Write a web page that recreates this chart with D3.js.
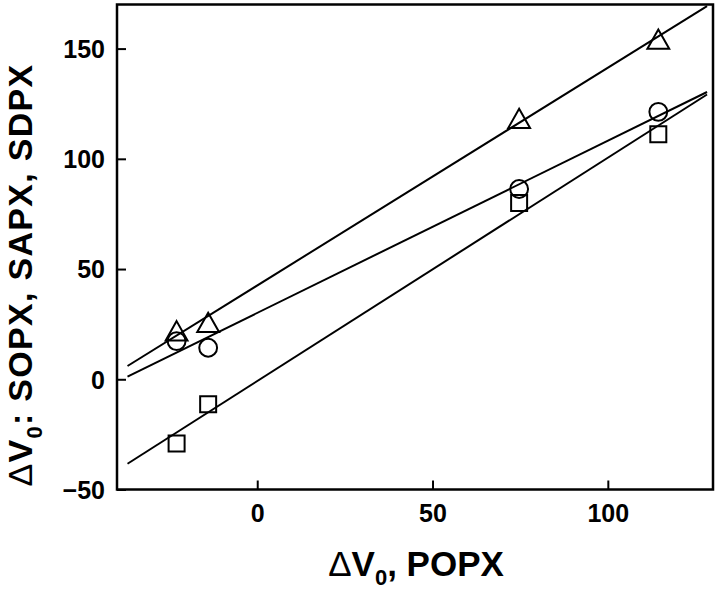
<!DOCTYPE html>
<html>
<head>
<meta charset="utf-8">
<script src="https://cdn.jsdelivr.net/npm/d3@7"></script>
<style>
  body { margin: 0; background: #fff; }
  svg { display: block; font-family: "Liberation Sans", Arial, sans-serif; }
</style>
</head>
<body>
<div id="chart"></div>
<script>
// --- Data ---
const popx = [-23, -14, 74.7, 114.4];
const sopx = [22, 25.8, 118.3, 154.3];   // triangles
const sapx = [17.3, 14.3, 86.3, 121.3];  // circles
const sdpx = [-29.1, -11.3, 80, 111.2];  // squares
const xTicks = [0, 50, 100];
const yTicks = [-50, 0, 50, 100, 150];
const fitRange = [-37, 128.3];

const width = 720, height = 595;
const margin = { left: 117, right: 7, top: 4.5, bottom: 105.5 };

const svg = d3.select("#chart").append("svg")
    .attr("width", width)
    .attr("height", height);

const x = d3.scaleLinear().domain([-40, 130]).range([margin.left, width - margin.right]);
const y = d3.scaleLinear().domain([-50, 170]).range([height - margin.bottom, margin.top]);

// least squares fit
function fit(xs, ys) {
    const mx = d3.mean(xs), my = d3.mean(ys);
    let sxy = 0, sxx = 0;
    xs.forEach((v, i) => { sxy += (v - mx) * (ys[i] - my); sxx += (v - mx) * (v - mx); });
    const b = sxy / sxx;
    return { b: b, a: my - b * mx };
}

const series = [
    { ys: sopx, shape: "triangle" },
    { ys: sapx, shape: "circle" },
    { ys: sdpx, shape: "square" }
];

// --- Fit lines ---
const line = d3.line().x(d => x(d[0])).y(d => y(d[1]));
series.forEach(s => {
    const f = fit(popx, s.ys);
    svg.append("path")
        .datum(fitRange.map(v => [v, f.a + f.b * v]))
        .attr("d", line)
        .attr("fill", "none")
        .attr("stroke", "#000")
        .attr("stroke-width", 2);
});

// triangle centred on its bounding box (like Origin's markers)
const boxTriangle = {
    draw(ctx, size) {
        const h = Math.sqrt(size * Math.sqrt(3));
        const w = h * 2 / Math.sqrt(3) * 0.98;
        const hh = h * 0.5;
        ctx.moveTo(0, -hh);
        ctx.lineTo(w / 2, hh);
        ctx.lineTo(-w / 2, hh);
        ctx.closePath();
    }
};

// --- Markers ---
const sym = {
    triangle: d3.symbol().type(boxTriangle).size(215),
    circle: d3.symbol().type(d3.symbolCircle).size(250),
    square: d3.symbol().type(d3.symbolSquare).size(256)
};
series.forEach(s => {
    svg.append("g").selectAll("path")
        .data(popx.map((v, i) => [v, s.ys[i]]))
        .enter().append("path")
        .attr("transform", d => `translate(${x(d[0])},${y(d[1])})`)
        .attr("d", sym[s.shape])
        .attr("fill", "none")
        .attr("stroke", "#000")
        .attr("stroke-width", 2);
});

// --- Frame ---
svg.append("rect")
    .attr("x", x.range()[0]).attr("y", y.range()[1])
    .attr("width", x.range()[1] - x.range()[0])
    .attr("height", y.range()[0] - y.range()[1])
    .attr("fill", "none")
    .attr("stroke", "#000")
    .attr("stroke-width", 2.5);

// --- Axes (ticks point inward) ---
const xAxis = svg.append("g")
    .attr("transform", `translate(0,${y.range()[0]})`)
    .call(d3.axisBottom(x).tickValues(xTicks).tickSizeInner(-9).tickSizeOuter(0));
const yAxis = svg.append("g")
    .attr("transform", `translate(${x.range()[0]},0)`)
    .call(d3.axisLeft(y).tickValues(yTicks).tickSizeInner(-9).tickSizeOuter(0));

[xAxis, yAxis].forEach(g => {
    g.select(".domain").remove();
    g.selectAll(".tick line").attr("stroke", "#000").attr("stroke-width", 2);
    g.selectAll(".tick text")
        .attr("fill", "#000")
        .style("font-size", "25px")
        .style("font-weight", "bold")
        .style("font-family", "'Liberation Sans', Arial, sans-serif");
});
xAxis.selectAll(".tick text").attr("y", 9).attr("dy", "0.95em");
yAxis.selectAll(".tick text").attr("x", -12).attr("dy", "0.35em");

// --- Axis titles ---
const xTitle = svg.append("text")
    .attr("x", 416).attr("y", 576)
    .attr("text-anchor", "middle")
    .style("font-size", "35px")
    .style("font-weight", "bold");
xTitle.append("tspan").style("font-weight", "normal").text("\u0394");
xTitle.append("tspan").text("V");
xTitle.append("tspan").attr("dy", 9).style("font-size", "22px").text("0");
xTitle.append("tspan").attr("dy", -9).text(", POPX");

const yTitle = svg.append("text")
    .attr("transform", "translate(32,275) rotate(-90)")
    .attr("text-anchor", "middle")
    .style("font-size", "34px")
    .style("letter-spacing", "1.3px")
    .style("font-weight", "bold");
yTitle.append("tspan").style("font-weight", "normal").text("\u0394");
yTitle.append("tspan").text("V");
yTitle.append("tspan").attr("dy", 10).style("font-size", "22px").text("0");
yTitle.append("tspan").attr("dy", -10).text(": SOPX, SAPX, SDPX");
</script>
</body>
</html>
